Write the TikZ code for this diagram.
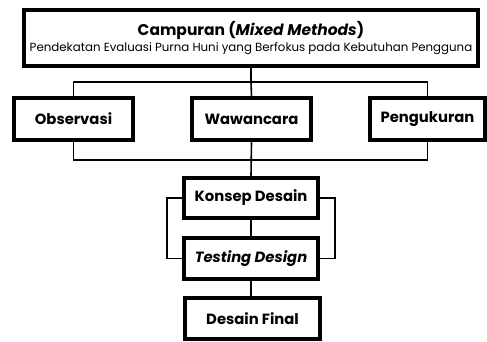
\documentclass[tikz,border=0pt]{standalone}
\usepackage{fontspec}
\setmainfont{Poppins}
\usepackage{tikz}
\tikzset{%
    box/.style={draw=black,line width=4.5pt,inner sep=0pt,font=\bfseries\fontsize{14.8}{16}\selectfont}
}

\begin{document}
\begin{tikzpicture}[x=1pt,y=-1pt,ln/.style={line width=1.6pt}]
        \useasboundingbox (0,0) rectangle (487,342);
        \node[box,minimum width=454pt,minimum height=56pt,align=center,font=\bfseries\fontsize{15.5}{17}\selectfont] (0) at (251,38)
            {Campuran (\textit{Mixed Methods})\\[-1pt]{\mdseries\fontsize{11.8}{13}\selectfont Pendekatan Evaluasi Purna Huni yang Berfokus pada Kebutuhan Pengguna}};
        \node[box,minimum width=119pt,minimum height=42pt] (1) at (73.5,119){Observasi};
        \node[box,minimum width=119pt,minimum height=42pt] (2) at (251.5,119){Wawancara};
        \node[box,minimum width=115pt,minimum height=42pt] (3) at (427.5,119){Pengukuran};
        \node[box,minimum width=134pt,minimum height=40pt] (4) at (251,198){Konsep Desain};
        \node[box,minimum width=134pt,minimum height=41pt] (5) at (251,258.5){\textit{Testing Design}};
        \node[box,minimum width=135pt,minimum height=41pt] (6) at (252.5,318.5){Desain Final};

        \coordinate (t) at (251,82);
        \coordinate (b) at (251,160);
        \draw[ln] (0.south) -- (t);
        \draw[ln] (1.north) |- (t) -| (3.north);
        \draw[ln] (t) -- (2.north);
        \draw[ln] (1.south) |- (b) -| (3.south);
        \draw[ln] (2.south) -- (4.north);
        \draw[ln] (4.west) -- ++(-15,0) |- (5.west);
        \draw[ln] (4.east) -- ++(15,0) |- (5.east);
        \draw[ln] (4.south) -- (5.north);
        \draw[ln] (5.south) -- (5.south |- 6.north);
    \end{tikzpicture}
\end{document}
